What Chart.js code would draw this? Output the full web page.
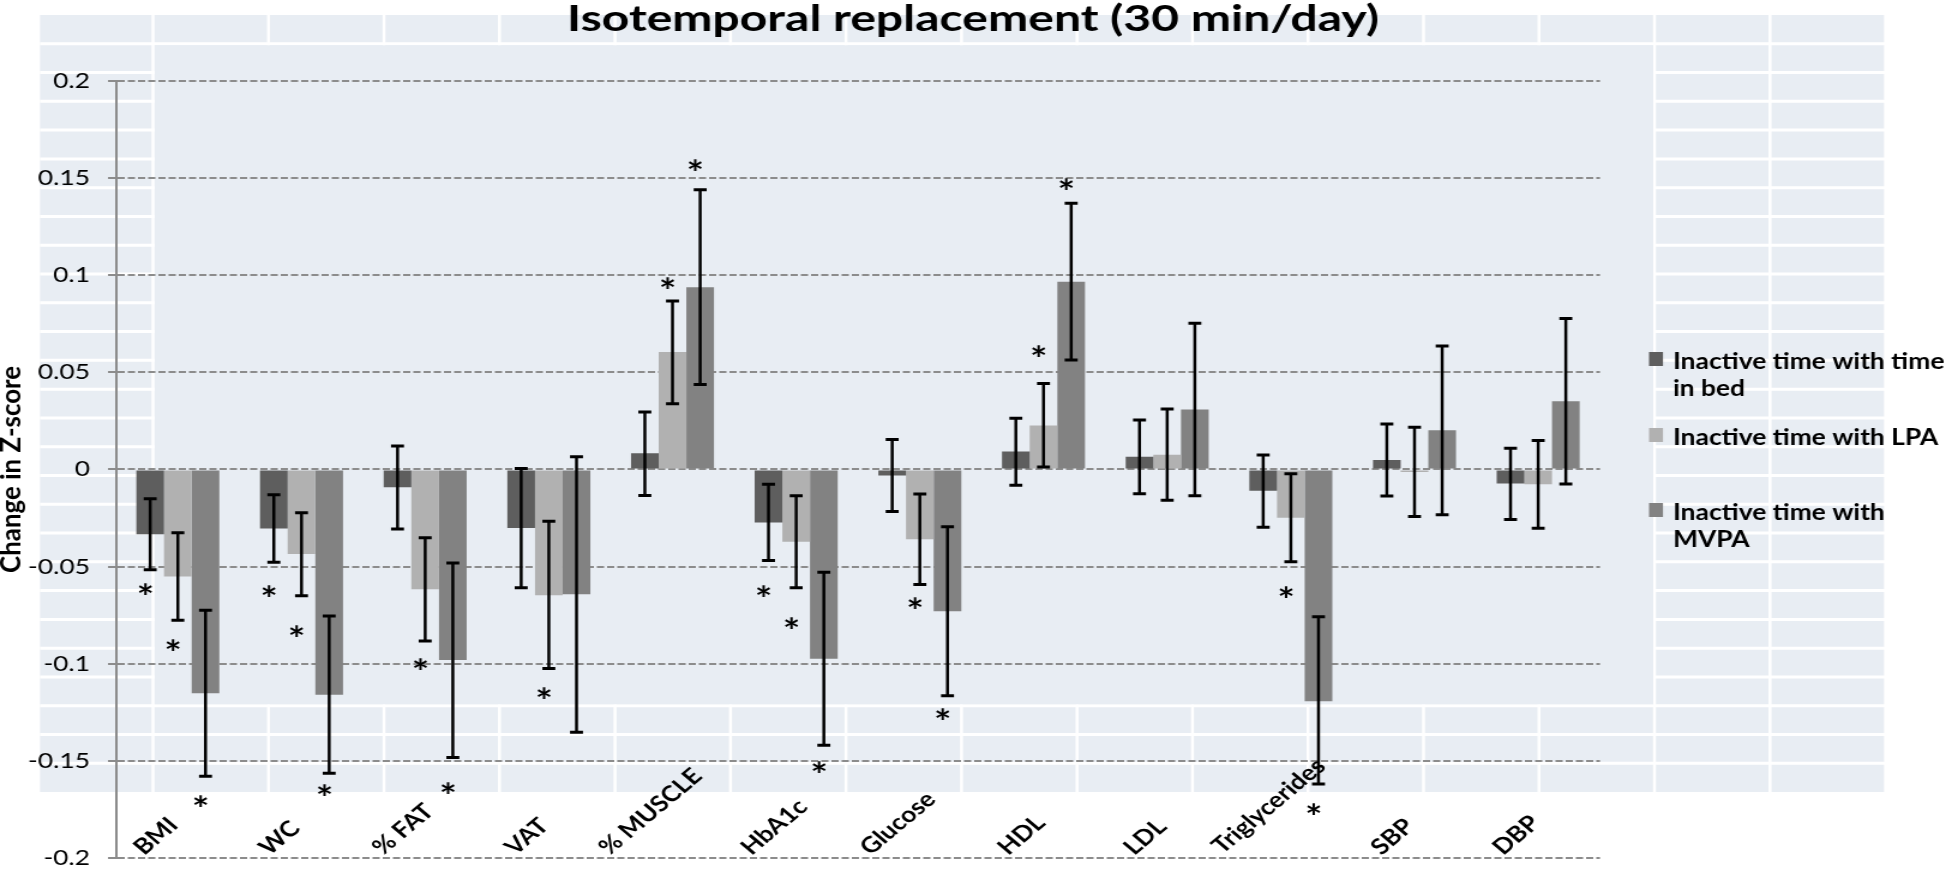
<!DOCTYPE html>
<html>
<head>
<meta charset="utf-8">
<script src="https://cdn.jsdelivr.net/npm/chart.js@4.4.1/dist/chart.umd.min.js"></script>
<style>
  html, body { margin: 0; padding: 0; background: #fff; overflow: hidden; }
  /* the original picture is an Excel chart stretched sideways, so draw narrow and stretch */
  #wrap { width: 1622px; height: 886px; transform: scaleX(1.19975); transform-origin: 0 0; }
</style>
</head>
<body>
<div id="wrap"><canvas id="chart" width="1622" height="886"></canvas></div>
<script>
// values
const categories = ["BMI", "WC", "% FAT", "VAT", "% MUSCLE", "HbA1c", "Glucose", "HDL", "LDL", "Triglycerides", "SBP", "DBP"];
const seriesNames = ["Inactive time with time in bed", "Inactive time with LPA", "Inactive time with MVPA"];
const legendLines = [["Inactive time with time", "in bed"], ["Inactive time with LPA"], ["Inactive time with", "MVPA"]];
const yTicks = [-0.2, -0.15, -0.1, -0.05, 0, 0.05, 0.1, 0.15, 0.2];
const yTickLabels = ["-0.2", "-0.15", "-0.1", "-0.05", "0", "0.05", "0.1", "0.15", "0.2"];
const chartTitle = "Isotemporal replacement (30 min/day)";
const yTitle = "Change in Z-score";

const bedMean = [-0.0334, -0.0304, -0.0092, -0.0302, 0.0083, -0.0273, -0.0032, 0.0092, 0.0065, -0.0110, 0.0049, -0.0072];
const bedLow  = [-0.0517, -0.0478, -0.0307, -0.0609, -0.0134, -0.0469, -0.0217, -0.0082, -0.0126, -0.0298, -0.0137, -0.0258];
const bedHigh = [-0.0151, -0.0131, 0.0120, 0.0004, 0.0296, -0.0077, 0.0154, 0.0263, 0.0254, 0.0074, 0.0234, 0.0109];

const lpaMean = [-0.0552, -0.0435, -0.0617, -0.0648, 0.0604, -0.0373, -0.0360, 0.0226, 0.0075, -0.0249, -0.0013, -0.0077];
const lpaLow  = [-0.0777, -0.0651, -0.0884, -0.1025, 0.0338, -0.0610, -0.0593, 0.0012, -0.0159, -0.0476, -0.0243, -0.0303];
const lpaHigh = [-0.0326, -0.0223, -0.0352, -0.0267, 0.0867, -0.0136, -0.0127, 0.0442, 0.0311, -0.0022, 0.0217, 0.0149];

const mvpaMean = [-0.1153, -0.1161, -0.0982, -0.0643, 0.0938, -0.0975, -0.0730, 0.0966, 0.0308, -0.1194, 0.0201, 0.0351];
const mvpaLow  = [-0.1580, -0.1564, -0.1483, -0.1354, 0.0437, -0.1420, -0.1165, 0.0563, -0.0136, -0.1620, -0.0234, -0.0075];
const mvpaHigh = [-0.0725, -0.0755, -0.0482, 0.0065, 0.1440, -0.0530, -0.0295, 0.1370, 0.0752, -0.0759, 0.0636, 0.0777];

// where the "*" marks sit (null = no mark)
const bedStar  = [-0.0616, -0.0624, null, null, null, -0.0625, null, null, null, null, null, null];
const lpaStar  = [-0.0906, -0.0830, -0.1000, -0.1153, 0.0960, -0.0790, -0.0690, 0.0610, null, -0.0630, null, null];
const mvpaStar = [-0.1710, -0.1650, -0.1640, null, 0.1570, -0.1530, -0.1260, 0.1470, null, -0.1750, null, null];

const SX = 1946 / 1622;          // sideways stretch of the page
const fx = v => v / SX;          // picture x -> canvas x
const CELL = '#e8edf3';
const FONT = 'Lato';

// spreadsheet cells behind the chart
const sheetBackground = {
  id: 'sheetBackground',
  beforeDraw(chart) {
    const ctx = chart.ctx;
    const left = fx(40), right = fx(1886), top = 15, bottom = 792;
    ctx.save();
    ctx.fillStyle = '#fff';
    ctx.fillRect(0, 0, chart.width, chart.height);
    ctx.fillStyle = CELL;
    ctx.fillRect(left, top, right - left, bottom - top);
    ctx.strokeStyle = '#fff';
    ctx.lineWidth = 2.5;
    ctx.beginPath();
    for (let k = 0; k <= 15; k++) {
      const x = fx(153 + k * 115.5);
      ctx.moveTo(x, top); ctx.lineTo(x, bottom);
    }
    ctx.stroke();
    ctx.lineWidth = 3;
    ctx.beginPath();
    for (let r = 1; r < 27; r++) {
      const y = top + r * 28.78;
      ctx.moveTo(left, y); ctx.lineTo(right, y);
    }
    ctx.stroke();
    // plot area fill hides the cell borders
    ctx.fillStyle = CELL;
    const px0 = fx(153) + 1.5, px1 = fx(1655) - 1.5, py0 = top + 28.78 + 1.5, py1 = top + 24 * 28.78 - 1.5;
    ctx.fillRect(px0, py0, px1 - px0, py1 - py0);
    ctx.restore();
  }
};

function drawStar(ctx, x, y) {
  ctx.font = `bold 34px ${FONT}`;
  ctx.textAlign = 'center';
  ctx.textBaseline = 'alphabetic';
  const m = ctx.measureText('*');
  ctx.fillText('*', x, y + (m.actualBoundingBoxAscent - m.actualBoundingBoxDescent) / 2);
}

// error bars and significance marks
const errorBars = {
  id: 'errorBars',
  afterDatasetsDraw(chart) {
    const ctx = chart.ctx, ys = chart.scales.y;
    ctx.save();
    ctx.strokeStyle = '#000';
    ctx.fillStyle = '#000';
    chart.data.datasets.forEach((ds, i) => {
      chart.getDatasetMeta(i).data.forEach((bar, j) => {
        const lo = ys.getPixelForValue(ds.low[j]);
        const hi = ys.getPixelForValue(ds.high[j]);
        const cap = 5.4;
        ctx.lineWidth = 2.5;
        ctx.beginPath();
        ctx.moveTo(bar.x, lo); ctx.lineTo(bar.x, hi);
        ctx.stroke();
        ctx.lineWidth = 3;
        ctx.beginPath();
        ctx.moveTo(bar.x - cap, lo); ctx.lineTo(bar.x + cap, lo);
        ctx.moveTo(bar.x - cap, hi); ctx.lineTo(bar.x + cap, hi);
        ctx.stroke();
        if (ds.star[j] !== null) drawStar(ctx, bar.x - 4, ys.getPixelForValue(ds.star[j]));
      });
    });
    ctx.restore();
  }
};

// title, axis title, slanted category names and legend
const textLayer = {
  id: 'textLayer',
  afterDraw(chart) {
    const ctx = chart.ctx, xs = chart.scales.x, ys = chart.scales.y;
    ctx.save();
    ctx.fillStyle = '#000';

    // title, fitted to its width in the picture
    ctx.font = `bold 37px ${FONT}`;
    ctx.textAlign = 'center';
    ctx.textBaseline = 'alphabetic';
    let w = ctx.measureText(chartTitle).width;
    ctx.save();
    ctx.translate(fx(973), 31);
    ctx.scale(fx(812) / w, 1);
    ctx.fillText(chartTitle, 0, 0);
    ctx.restore();

    // y axis title
    ctx.font = `bold 22px ${FONT}`;
    ctx.textBaseline = 'middle';
    w = ctx.measureText(yTitle).width;
    ctx.save();
    ctx.translate(fx(12), (ys.top + ys.bottom) / 2);
    ctx.rotate(-Math.PI / 2);
    ctx.scale(207 / w, 1);
    ctx.fillText(yTitle, 0, 0);
    ctx.restore();

    // category names, slanted 45 degrees
    ctx.font = `bold 22px ${FONT}`;
    ctx.textAlign = 'center';
    ctx.textBaseline = 'middle';
    const c = Math.SQRT1_2;
    categories.forEach((name, j) => {
      const m = ctx.measureText(name);
      const h = m.actualBoundingBoxAscent + m.actualBoundingBoxDescent;
      const half = (m.width + h) * c / 2;
      const cx = xs.getPixelForValue(j) - fx(22);
      const cy = 857 - half;
      ctx.save();
      ctx.transform(c, -c, c, c, cx, cy);
      ctx.fillText(name, 0, 0);
      ctx.restore();
    });

    // legend
    const rows = [361, 437, 512];
    const lineH = 27;
    ctx.font = `bold 22px ${FONT}`;
    ctx.textAlign = 'left';
    ctx.textBaseline = 'alphabetic';
    chart.data.datasets.forEach((ds, i) => {
      ctx.fillStyle = ds.backgroundColor;
      ctx.fillRect(fx(1649), rows[i] - 2 - 7, fx(14), 14);
      ctx.fillStyle = '#000';
      legendLines[i].forEach((line, k) => {
        ctx.fillText(line, fx(1673), rows[i] + k * lineH + 8);
      });
    });
    ctx.restore();
  }
};

Chart.defaults.font.family = FONT;
Chart.defaults.color = '#000';

new Chart(document.getElementById('chart'), {
  type: 'bar',
  data: {
    labels: categories,
    datasets: [
      { label: seriesNames[0], data: bedMean, low: bedLow, high: bedHigh, star: bedStar, backgroundColor: '#5e5e5e' },
      { label: seriesNames[1], data: lpaMean, low: lpaLow, high: lpaHigh, star: lpaStar, backgroundColor: '#b1b1b1' },
      { label: seriesNames[2], data: mvpaMean, low: mvpaLow, high: mvpaHigh, star: mvpaStar, backgroundColor: '#828282' }
    ]
  },
  options: {
    responsive: false,
    animation: false,
    devicePixelRatio: 1,
    layout: { padding: { left: 0, top: 81, right: 1622 - fx(1600), bottom: 9 } },
    datasets: { bar: { categoryPercentage: 0.671, barPercentage: 1, borderWidth: 0 } },
    plugins: { legend: { display: false }, title: { display: false }, tooltip: { enabled: false } },
    scales: {
      x: { display: false },
      y: {
        min: -0.2,
        max: 0.2,
        afterFit: s => { s.width = fx(116); },
        afterBuildTicks: s => { s.ticks = yTicks.map(v => ({ value: v })); },
        ticks: { callback: (v, i) => yTickLabels[i], font: { size: 22 }, color: '#000', padding: 15, autoSkip: false },
        grid: { color: '#8c8c8c', lineWidth: 2, tickLength: fx(8), tickColor: '#8c8c8c', tickWidth: 2, tickBorderDash: [6, 2.5] },
        border: { display: true, color: '#8c8c8c', width: 2, dash: [6, 2.5] }
      }
    }
  },
  plugins: [sheetBackground, errorBars, textLayer]
});
</script>
</body>
</html>
